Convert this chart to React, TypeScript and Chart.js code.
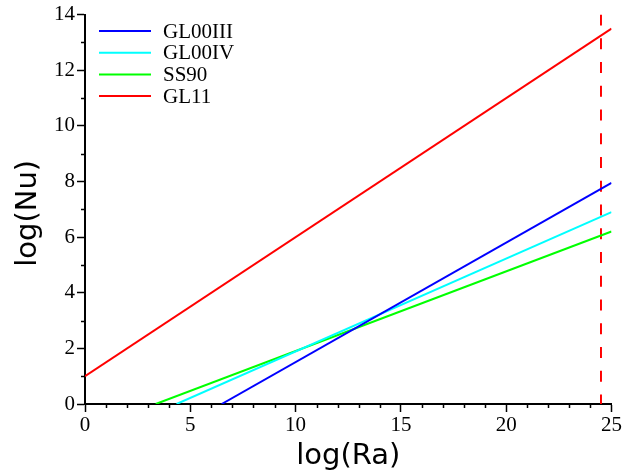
import React, { useEffect, useRef } from "react";
import { Chart, registerables } from "chart.js";

Chart.register(...registerables);

// Nusselt–Rayleigh scaling laws: each line runs from its zero crossing to log(Ra) = 25
const seriesNames = ["GL00III", "GL00IV", "SS90", "GL11"];
const seriesColors = ["#0000ff", "#00ffff", "#00ff00", "#ff0000"];
const logRaStart = [6.49, 4.35, 3.36, 0];
const logNuStart = [0, 0, 0, 1.0];
const logRaEnd = [25, 25, 25, 25];
const logNuEnd = [7.95, 6.9, 6.2, 13.5];

// Vertical dashed limit
const limitLogRa = 24.5;
const limitLogNu = [14, 0];

const xRange = [0, 25];
const yRange = [0, 14];
const xMajorStep = 5;
const yMajorStep = 2;

const xTitle = "log(Ra)";
const yTitle = "log(Nu)";

const serifFont = "'Liberation Serif', 'Times New Roman', serif";
const sansFont = "'DejaVu Sans', sans-serif";

const decorations = {
  id: "decorations",
  afterDraw(chart: any) {
    const { ctx, chartArea, scales } = chart;
    const xs = scales.x;
    const ys = scales.y;
    ctx.save();

    // minor ticks
    ctx.strokeStyle = "#000";
    ctx.lineWidth = 1.5;
    ctx.beginPath();
    for (let v = xRange[0] + 1; v < xRange[1]; v++) {
      if (v % xMajorStep === 0) continue;
      const px = Math.round(xs.getPixelForValue(v)) + 0.5;
      ctx.moveTo(px, chartArea.bottom);
      ctx.lineTo(px, chartArea.bottom + 4);
    }
    for (let v = yRange[0] + 1; v < yRange[1]; v++) {
      if (v % yMajorStep === 0) continue;
      const py = Math.round(ys.getPixelForValue(v)) + 0.5;
      ctx.moveTo(chartArea.left, py);
      ctx.lineTo(chartArea.left - 4, py);
    }
    ctx.stroke();

    // axis titles
    ctx.fillStyle = "#000";
    ctx.font = `29px ${sansFont}`;
    ctx.textAlign = "center";
    ctx.textBaseline = "alphabetic";
    ctx.fillText(xTitle, (chartArea.left + chartArea.right) / 2, 464);
    ctx.save();
    ctx.translate(36, (chartArea.top + chartArea.bottom) / 2 + 4);
    ctx.rotate(-Math.PI / 2);
    ctx.fillText(yTitle, 0, 0);
    ctx.restore();

    // legend
    ctx.font = `21px ${serifFont}`;
    ctx.textAlign = "left";
    ctx.textBaseline = "middle";
    seriesNames.forEach((name, i) => {
      const cy = 31 + i * 21.7;
      ctx.strokeStyle = seriesColors[i];
      ctx.lineWidth = 2;
      ctx.beginPath();
      ctx.moveTo(chartArea.left + 14, cy);
      ctx.lineTo(chartArea.left + 66, cy);
      ctx.stroke();
      ctx.fillText(name, chartArea.left + 78, cy + 1);
    });

    ctx.restore();
  },
};

const whiteBackground = {
  id: "whiteBackground",
  beforeDraw(chart: any) {
    const { ctx, width, height } = chart;
    ctx.save();
    ctx.fillStyle = "#fff";
    ctx.fillRect(0, 0, width, height);
    ctx.restore();
  },
};

export default function App() {
  const canvasRef = useRef<HTMLCanvasElement | null>(null);

  useEffect(() => {
    if (!canvasRef.current) return;

    const datasets: any[] = seriesNames.map((name, i) => ({
      label: name,
      data: [
        { x: logRaStart[i], y: logNuStart[i] },
        { x: logRaEnd[i], y: logNuEnd[i] },
      ],
      borderColor: seriesColors[i],
      borderWidth: 2,
      showLine: true,
      pointRadius: 0,
      fill: false,
    }));
    datasets.push({
      label: "limit",
      data: limitLogNu.map((v) => ({ x: limitLogRa, y: v })),
      borderColor: "#ff0000",
      borderWidth: 2,
      borderDash: [11, 12.75],
      showLine: true,
      pointRadius: 0,
      fill: false,
    });

    const tickFont = { family: serifFont, size: 21 };

    const chart = new Chart(canvasRef.current, {
      type: "scatter",
      data: { datasets },
      plugins: [whiteBackground, decorations],
      options: {
        responsive: false,
        animation: false,
        layout: { padding: { top: 13, right: 11, left: 0, bottom: 0 } },
        plugins: {
          legend: { display: false },
          tooltip: { enabled: false },
        },
        scales: {
          x: {
            type: "linear",
            min: xRange[0],
            max: xRange[1],
            ticks: {
              stepSize: xMajorStep,
              color: "#000",
              font: tickFont,
              padding: 1,
              maxRotation: 0,
            },
            grid: {
              drawOnChartArea: false,
              tickLength: 8,
              tickColor: "#000",
              tickWidth: 1.5,
            },
            border: { color: "#000", width: 2 },
            afterFit(scale: any) {
              scale.height = 69;
            },
          },
          y: {
            type: "linear",
            min: yRange[0],
            max: yRange[1],
            ticks: {
              stepSize: yMajorStep,
              color: "#000",
              font: tickFont,
              padding: 2,
            },
            grid: {
              drawOnChartArea: false,
              tickLength: 8,
              tickColor: "#000",
              tickWidth: 1.5,
            },
            border: { color: "#000", width: 2 },
            afterFit(scale: any) {
              scale.width = 85;
            },
          },
        },
      },
    });

    return () => chart.destroy();
  }, []);

  return (
    <div style={{ position: "fixed", left: 0, top: 0, width: 623, height: 473, background: "#fff" }}>
      <canvas ref={canvasRef} width={623} height={473} />
    </div>
  );
}
